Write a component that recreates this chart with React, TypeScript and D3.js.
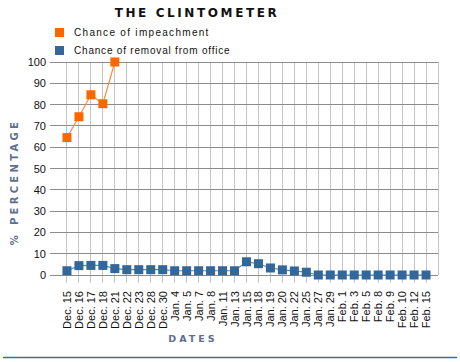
import React, { useRef, useEffect } from 'react';
import * as d3 from 'd3';

const dates = [
  'Dec. 15', 'Dec. 16', 'Dec. 17', 'Dec. 18', 'Dec. 21', 'Dec. 22', 'Dec. 23', 'Dec. 28', 'Dec. 30',
  'Jan. 4', 'Jan. 5', 'Jan. 7', 'Jan. 8', 'Jan. 11', 'Jan. 13', 'Jan. 15', 'Jan. 18', 'Jan. 19',
  'Jan. 20', 'Jan. 22', 'Jan. 25', 'Jan. 27', 'Jan. 29', 'Feb. 1', 'Feb. 3', 'Feb. 5', 'Feb. 8',
  'Feb. 9', 'Feb. 10', 'Feb. 12', 'Feb. 15',
];
const impeachment = [64.5, 74.3, 84.6, 80.4, 100];
const removal = [
  2, 4.4, 4.5, 4.5, 3, 2.5, 2.5, 2.5, 2.5,
  2, 2, 2, 2, 2, 2, 6.2, 5.3, 3.3,
  2.4, 1.9, 1.3, 0, 0, 0, 0, 0, 0,
  0, 0, 0, 0,
];
const yTicks = [0, 10, 20, 30, 40, 50, 60, 70, 80, 90, 100];
const seriesNames = ['Chance of impeachment', 'Chance of removal from office'];

const ORANGE = '#ff6600';
const BLUE = '#336699';

const App = () => {
  const ref = useRef<SVGSVGElement>(null);

  useEffect(() => {
    if (!ref.current) return;
    const svg = d3.select(ref.current);
    svg.selectAll('*').remove();

    const plot = { left: 55, right: 438, top: 62, bottom: 275 };

    const x = d3.scalePoint<string>()
      .domain(dates)
      .range([plot.left, plot.right])
      .padding(1);
    const y = d3.scaleLinear().domain([0, 100]).range([plot.bottom, plot.top]);

    // title
    svg.append('text')
      .attr('x', 197).attr('y', 17)
      .attr('text-anchor', 'middle')
      .attr('font-family', 'DejaVu Sans')
      .attr('font-weight', 'bold')
      .attr('font-size', 12)
      .attr('letter-spacing', 2.6)
      .attr('fill', '#111')
      .text('THE CLINTOMETER');

    // legend
    const legend = svg.append('g').attr('transform', 'translate(55,28)');
    [ORANGE, BLUE].forEach((c, i) => {
      legend.append('rect')
        .attr('x', 0).attr('y', i * 18)
        .attr('width', 9).attr('height', 9)
        .attr('fill', c);
      legend.append('text')
        .attr('x', 19).attr('y', i * 18 + 8)
        .attr('font-family', 'Liberation Sans, Arial')
        .attr('font-size', 10)
        .attr('letter-spacing', i === 0 ? 1.3 : 0.8)
        .attr('fill', '#111')
        .text(seriesNames[i]);
    });

    // vertical grid
    svg.append('g').selectAll('line')
      .data(dates)
      .enter()
      .append('line')
      .attr('x1', d => x(d)!).attr('x2', d => x(d)!)
      .attr('y1', plot.top).attr('y2', plot.bottom + 8)
      .attr('stroke', '#c4c4c4').attr('stroke-width', 1)
      .attr('shape-rendering', 'crispEdges');

    svg.append('line')
      .attr('x1', plot.right).attr('x2', plot.right)
      .attr('y1', plot.top).attr('y2', plot.bottom)
      .attr('stroke', '#c4c4c4')
      .attr('shape-rendering', 'crispEdges');

    // horizontal grid + y labels
    const yg = svg.append('g');
    yg.selectAll('line')
      .data(yTicks)
      .enter()
      .append('line')
      .attr('x1', plot.left - 5).attr('x2', plot.right)
      .attr('y1', d => y(d)).attr('y2', d => y(d))
      .attr('stroke', '#8c8c8c').attr('stroke-width', 1)
      .attr('shape-rendering', 'crispEdges');
    yg.selectAll('text')
      .data(yTicks)
      .enter()
      .append('text')
      .attr('x', plot.left - 9)
      .attr('y', d => y(d) + 4)
      .attr('text-anchor', 'end')
      .attr('font-family', 'Liberation Sans, Arial')
      .attr('font-size', 11)
      .attr('fill', '#111')
      .text(d => d);

    // x labels
    svg.append('g').selectAll('text')
      .data(dates)
      .enter()
      .append('text')
      .attr('transform', d => `translate(${x(d)! + 4},${plot.bottom + 16}) rotate(-90)`)
      .attr('text-anchor', 'end')
      .attr('font-family', 'Liberation Sans, Arial')
      .attr('font-size', 11)
      .attr('fill', '#111')
      .text(d => d);

    // axis titles
    svg.append('text')
      .attr('transform', 'translate(18,182) rotate(-90)')
      .attr('text-anchor', 'middle')
      .attr('font-family', 'DejaVu Sans')
      .attr('font-weight', 'bold')
      .attr('font-size', 10)
      .attr('letter-spacing', 3.3)
      .attr('fill', '#5d6f90')
      .text('% PERCENTAGE');

    svg.append('text')
      .attr('x', 193).attr('y', 342)
      .attr('text-anchor', 'middle')
      .attr('font-family', 'DejaVu Sans')
      .attr('font-weight', 'bold')
      .attr('font-size', 9.5)
      .attr('letter-spacing', 3)
      .attr('fill', '#5d6f90')
      .text('DATES');

    // series
    const line = d3.line<number>()
      .x((_, i) => x(dates[i])!)
      .y(d => y(d));

    const series = [
      { values: impeachment, color: ORANGE, stroke: '#ff8a3d' },
      { values: removal, color: BLUE, stroke: '#4f8cc4' },
    ];
    series.forEach(s => {
      svg.append('path')
        .datum(s.values)
        .attr('fill', 'none')
        .attr('stroke', s.stroke)
        .attr('stroke-width', 1.2)
        .attr('d', line);
      svg.append('g').selectAll('rect')
        .data(s.values)
        .enter()
        .append('rect')
        .attr('x', (_, i) => x(dates[i])! - 4.5)
        .attr('y', d => y(d) - 4.5)
        .attr('width', 9).attr('height', 9)
        .attr('fill', s.color);
    });

    // bottom rule
    svg.append('line')
      .attr('x1', 3).attr('x2', 457)
      .attr('y1', 357.5).attr('y2', 357.5)
      .attr('stroke', '#3a6ea5').attr('stroke-width', 1.5);
  }, []);

  return (
    <svg ref={ref} width={460} height={362}
      style={{ position: 'absolute', left: 0, top: 0, background: '#fff' }} />
  );
};

export default App;
